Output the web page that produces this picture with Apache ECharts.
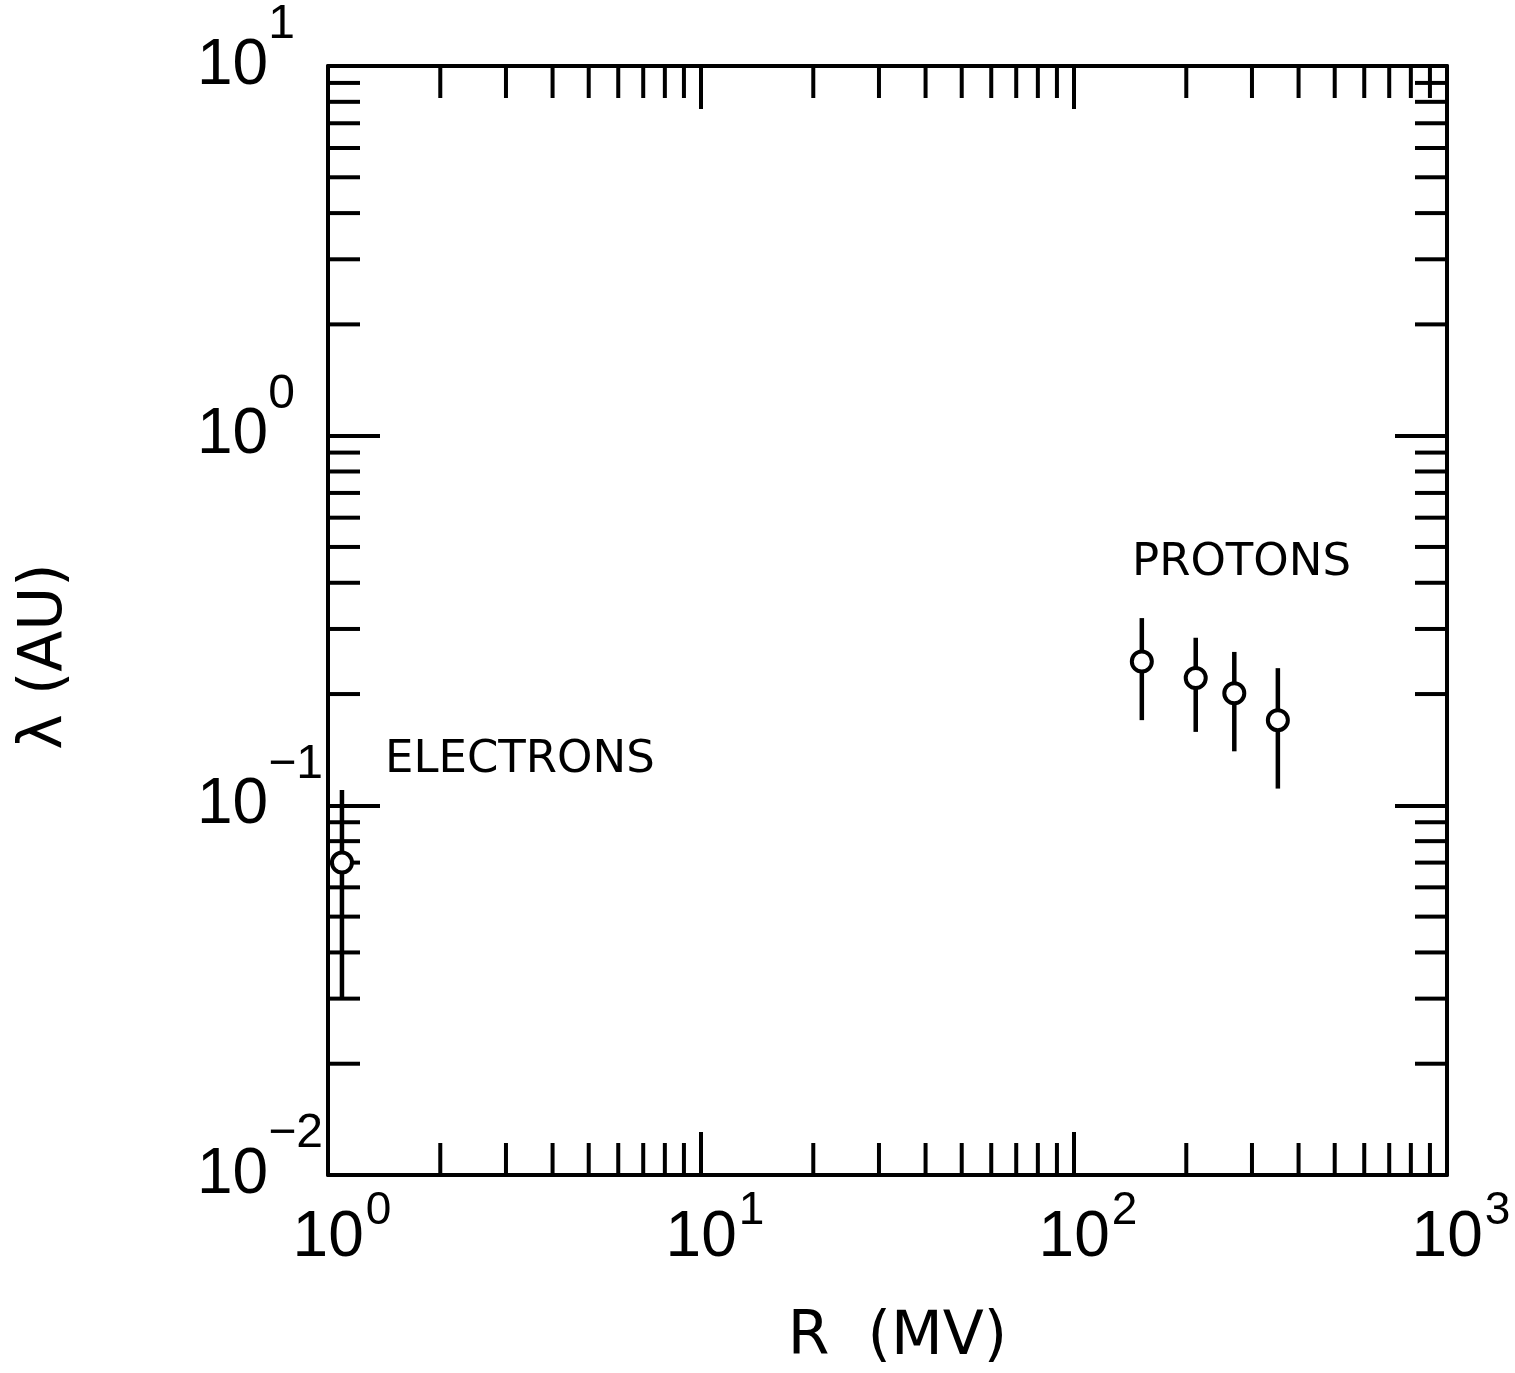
<!DOCTYPE html>
<html>
<head>
<meta charset="utf-8">
<title>Mean free path vs rigidity</title>
<script src="https://cdn.jsdelivr.net/npm/echarts@6/dist/echarts.min.js"></script>
<style>
  html, body { margin: 0; padding: 0; background: #fff; }
  #chart { width: 1515px; height: 1373px; }
</style>
</head>
<body>
<div id="chart"></div>
<script>
// Decade tick values on each axis
const xMajorTicks = [1, 10, 100, 1000];
const yMajorTicks = [0.01, 0.1, 1, 10];
// Decades that carry minor ticks, and the multipliers inside each decade
const xDecades = [1, 10, 100];
const yDecades = [0.01, 0.1, 1];
const minorMultipliers = [2, 3, 4, 5, 6, 7, 8, 9];

// Electrons: rigidity R (MV), mean free path lambda (AU) and its error range
const electronR = [1.09];
const electronLambda = [0.070];
const electronLow = [0.030];
const electronHigh = [0.110];

// Protons
const protonR = [152, 212, 269, 352];
const protonLambda = [0.245, 0.221, 0.201, 0.170];
const protonLow = [0.170, 0.158, 0.140, 0.111];
const protonHigh = [0.321, 0.284, 0.260, 0.235];

const X_MIN = 1, X_MAX = 1000, Y_MIN = 0.01, Y_MAX = 10;
const INK = '#000';
const FONT = "'DejaVu Sans', sans-serif";
const TICK_FONT = "'Liberation Sans', 'DejaVu Sans', sans-serif";

function exponentText(v) {
  const e = Math.round(Math.log10(v));
  return e < 0 ? '\u2212' + (-e) : String(e);
}

// Minor tick items: [x, y, side] with side 0=bottom 1=top 2=left 3=right
const minorTickData = [];
xDecades.forEach(d => minorMultipliers.forEach(m => {
  minorTickData.push([d * m, Y_MIN, 0]);
  minorTickData.push([d * m, Y_MAX, 1]);
}));
yDecades.forEach(d => minorMultipliers.forEach(m => {
  minorTickData.push([X_MIN, d * m, 2]);
  minorTickData.push([X_MAX, d * m, 3]);
}));

const MINOR_LEN = 32;

function renderMinorTick(params, api) {
  const p = api.coord([api.value(0), api.value(1)]);
  const side = api.value(2);
  let x2 = p[0], y2 = p[1];
  if (side === 0) y2 = p[1] - MINOR_LEN;
  else if (side === 1) y2 = p[1] + MINOR_LEN;
  else if (side === 2) x2 = p[0] + MINOR_LEN;
  else x2 = p[0] - MINOR_LEN;
  return {
    type: 'line',
    shape: { x1: p[0], y1: p[1], x2: x2, y2: y2 },
    style: { stroke: INK, lineWidth: 4 }
  };
}

function renderErrorBar(params, api) {
  const top = api.coord([api.value(0), api.value(2)]);
  const bot = api.coord([api.value(0), api.value(1)]);
  return {
    type: 'line',
    shape: { x1: top[0], y1: top[1], x2: bot[0], y2: bot[1] },
    style: { stroke: INK, lineWidth: 4.5 }
  };
}

const electronBars = electronR.map((r, i) => [r, electronLow[i], electronHigh[i]]);
const protonBars = protonR.map((r, i) => [r, protonLow[i], protonHigh[i]]);
const electronPts = electronR.map((r, i) => [r, electronLambda[i]]);
const protonPts = protonR.map((r, i) => [r, protonLambda[i]]);

const baseLog = (extra) => Object.assign({
  type: 'log',
  logBase: 10,
  splitLine: { show: false },
  axisLine: { show: true, lineStyle: { color: INK, width: 4 } }
}, extra);

const xLabelRich = {
  sp: { width: 28 },
  b: { fontFamily: TICK_FONT, fontSize: 64, lineHeight: 100, verticalAlign: 'middle', color: INK },
  e: { fontFamily: TICK_FONT, fontSize: 46, lineHeight: 46, verticalAlign: 'top', padding: [0, 0, 0, 2], color: INK }
};
const yLabelRich = {
  b: { fontFamily: TICK_FONT, fontSize: 64, lineHeight: 130, verticalAlign: 'middle', color: INK },
  e: { fontFamily: TICK_FONT, fontSize: 48, lineHeight: 48, verticalAlign: 'top', padding: [0, 0, 0, 0], color: INK }
};

const option = {
  backgroundColor: '#fff',
  animation: false,
  grid: { left: 328, top: 66, right: 68, bottom: 198, containLabel: false, outerBoundsMode: 'none' },
  xAxis: [
    baseLog({
      min: X_MIN, max: X_MAX, position: 'bottom',
      axisTick: { show: true, inside: true, length: 43, lineStyle: { color: INK, width: 4 } },
      axisLabel: {
        margin: 13,
        formatter: v => '{sp|}{b|10}{e|' + exponentText(v) + '}',
        rich: xLabelRich
      },
      name: 'R  (MV)',
      nameLocation: 'middle',
      nameGap: 163,
      nameTextStyle: { fontFamily: FONT, fontSize: 60, color: INK, verticalAlign: 'middle', padding: [0, 0, 0, 20] }
    }),
    baseLog({
      min: X_MIN, max: X_MAX, position: 'top',
      axisTick: { show: true, inside: true, length: 43, lineStyle: { color: INK, width: 4 } },
      axisLabel: { show: false }
    })
  ],
  yAxis: [
    baseLog({
      min: Y_MIN, max: Y_MAX, position: 'left',
      axisTick: { show: true, inside: true, length: 52, lineStyle: { color: INK, width: 4 } },
      axisLabel: {
        margin: 131,
        align: 'left',
        formatter: v => '{b|10}{e|' + exponentText(v) + '}',
        rich: yLabelRich
      },
      name: '\u03bb (AU)',
      nameLocation: 'middle',
      nameRotate: 90,
      nameGap: 283,
      nameTextStyle: { fontFamily: FONT, fontSize: 60, color: INK, verticalAlign: 'middle', padding: [0, 72, 0, 0] }
    }),
    baseLog({
      min: Y_MIN, max: Y_MAX, position: 'right',
      axisTick: { show: true, inside: true, length: 52, lineStyle: { color: INK, width: 4 } },
      axisLabel: { show: false }
    })
  ],
  graphic: [
    { type: 'text', x: 385, y: 760, style: { text: 'ELECTRONS', font: '45px ' + FONT, fill: INK, verticalAlign: 'middle' } },
    { type: 'text', x: 1132, y: 563, style: { text: 'PROTONS', font: '45px ' + FONT, fill: INK, verticalAlign: 'middle' } }
  ],
  series: [
    {
      name: 'minor ticks', type: 'custom', coordinateSystem: 'cartesian2d',
      xAxisIndex: 0, yAxisIndex: 0, clip: false, silent: true,
      renderItem: renderMinorTick, data: minorTickData, z: 3
    },
    {
      name: 'electron error', type: 'custom', coordinateSystem: 'cartesian2d',
      renderItem: renderErrorBar, data: electronBars, z: 4, clip: false
    },
    {
      name: 'proton error', type: 'custom', coordinateSystem: 'cartesian2d',
      renderItem: renderErrorBar, data: protonBars, z: 4, clip: false
    },
    {
      name: 'Electrons', type: 'scatter', data: electronPts, z: 5,
      symbol: 'circle', symbolSize: 20,
      itemStyle: { color: '#fff', borderColor: INK, borderWidth: 4, opacity: 1 }
    },
    {
      name: 'Protons', type: 'scatter', data: protonPts, z: 5,
      symbol: 'circle', symbolSize: 20,
      itemStyle: { color: '#fff', borderColor: INK, borderWidth: 4, opacity: 1 }
    }
  ]
};

const chart = echarts.init(document.getElementById('chart'), null, { renderer: 'canvas' });
chart.setOption(option);
</script>
</body>
</html>
